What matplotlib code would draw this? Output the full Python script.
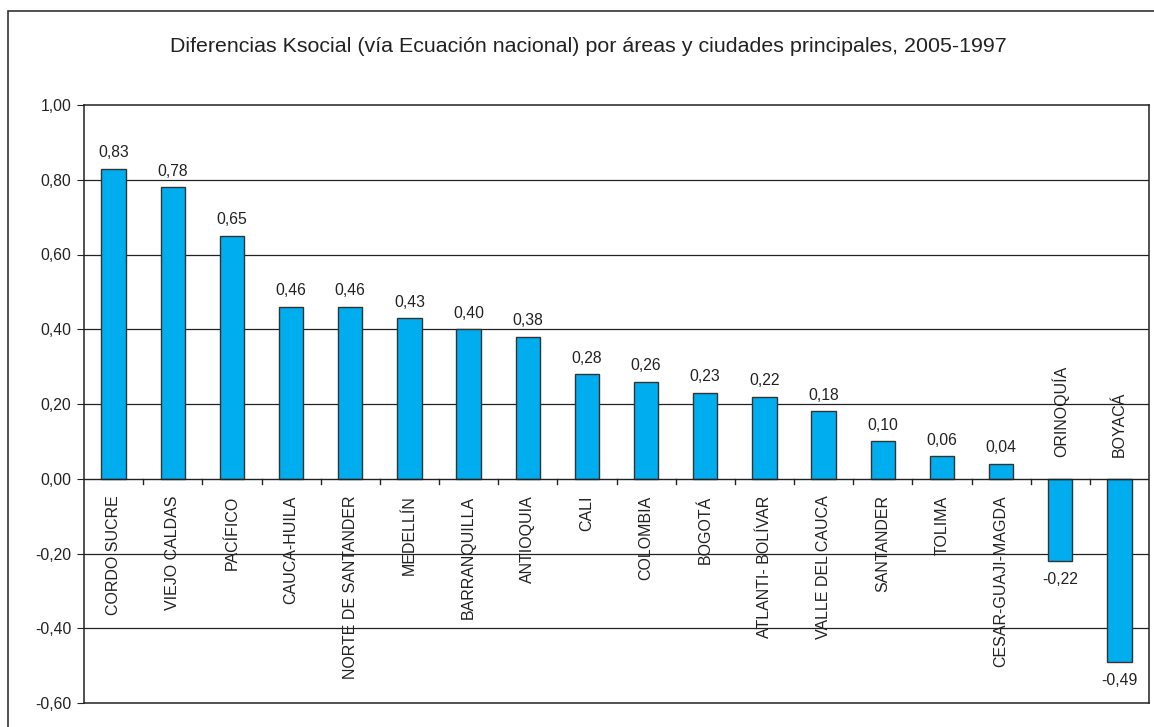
import matplotlib.pyplot as plt
from matplotlib.patches import Rectangle

plt.rcParams['font.family'] = ['Liberation Sans', 'DejaVu Sans']

regions = ['CORDO SUCRE', 'VIEJO CALDAS', 'PACÍFICO', 'CAUCA-HUILA',
           'NORTE DE SANTANDER', 'MEDELLÍN', 'BARRANQUILLA', 'ANTIOQUIA',
           'CALI', 'COLOMBIA', 'BOGOTÁ', 'ATLANTI- BOLÍVAR', 'VALLE DEL CAUCA',
           'SANTANDER', 'TOLIMA', 'CESAR-GUAJI-MAGDA', 'ORINOQUÍA', 'BOYACÁ']
diffs = [0.83, 0.78, 0.65, 0.46, 0.46, 0.43, 0.40, 0.38, 0.28, 0.26,
         0.23, 0.22, 0.18, 0.10, 0.06, 0.04, -0.22, -0.49]
yticks = [-0.6, -0.4, -0.2, 0.0, 0.2, 0.4, 0.6, 0.8, 1.0]

fig = plt.figure(figsize=(11.54, 7.27), dpi=100)
ax = fig.add_axes([84 / 1154, 1 - 703 / 727, (1149 - 84) / 1154, (703 - 105) / 727])

# outer chart frame (right and bottom edges fall outside the image)
fig.patches.append(Rectangle((8 / 1154, -0.05), 1.1, 1 - 11 / 727 + 0.05,
                             transform=fig.transFigure, fill=False,
                             edgecolor='#333333', linewidth=1.2))

x = range(len(regions))
ax.bar(x, diffs, width=0.41, color='#00AEEF', edgecolor='#333333',
       linewidth=1, zorder=3)

ax.set_xlim(-0.5, len(regions) - 0.5)
ax.set_ylim(-0.6, 1.0)
ax.set_yticks(yticks)
ax.set_yticklabels([f'{v:.2f}'.replace('.', ',') for v in yticks],
                   fontsize=11.3, color='#222222')
for v in yticks[1:-1]:
    if v != 0:
        ax.axhline(v, color='#222222', linewidth=0.9, zorder=1)
ax.axhline(0, color='#222222', linewidth=1.0, zorder=4)

ax.set_xticks([])
for i in range(1, len(regions)):
    ax.plot([i - 0.5, i - 0.5], [0, -0.015], color='#222222', lw=1,
            zorder=4, clip_on=False)

for i, (name, v) in enumerate(zip(regions, diffs)):
    lab = f'{v:.2f}'.replace('.', ',')
    if v >= 0:
        ax.annotate(lab, (i, v), xytext=(0, 6), textcoords='offset points',
                    ha='center', va='bottom', fontsize=11.3, color='#222222')
        ax.annotate(name, (i, 0), xytext=(0, -12), textcoords='offset points',
                    ha='center', va='top', rotation=90, fontsize=11.5,
                    color='#222222')
    else:
        ax.annotate(lab, (i, v), xytext=(0, -8), textcoords='offset points',
                    ha='center', va='top', fontsize=11.3, color='#222222')
        ax.annotate(name, (i, 0), xytext=(0, 16), textcoords='offset points',
                    ha='center', va='bottom', rotation=90, fontsize=11.5,
                    color='#222222')

for s in ax.spines.values():
    s.set_color('#222222')
    s.set_linewidth(1.1)
ax.tick_params(axis='y', length=5, color='#222222', pad=4)

fig.text(0.5 + 11 / 1154, 1 - 47 / 727,
         'Diferencias Ksocial (vía Ecuación nacional) por áreas y ciudades principales, 2005-1997',
         ha='center', va='center', fontsize=15.4, color='#222222')

fig.savefig('out.png', dpi=100)
